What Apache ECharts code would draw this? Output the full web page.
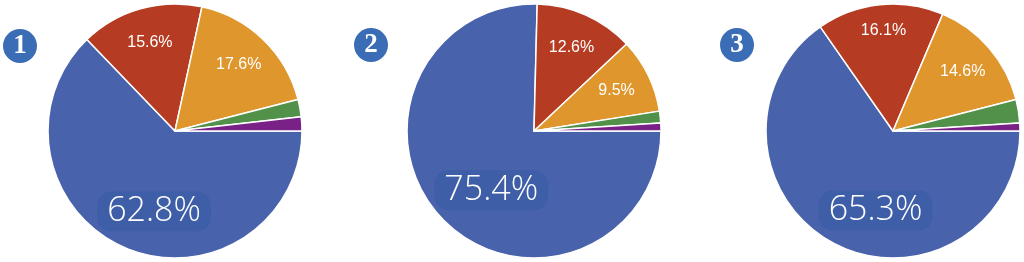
<!DOCTYPE html>
<html>
<head>
<meta charset="UTF-8">
<title>pies</title>
<script src="https://cdn.jsdelivr.net/npm/echarts@6/dist/echarts.min.js"></script>
<style>body{margin:0;background:#fff}</style>
</head>
<body>
<div id="main" style="width:1024px;height:262px"></div>
<script>
// slice names (clockwise from 3 o'clock)
var categories = ['A', 'B', 'C', 'D', 'E'];
var pie1 = [62.8, 15.6, 17.6, 2.2, 1.8];
var pie2 = [75.4, 12.6, 9.5, 1.5, 1.0];
var pie3 = [65.3, 16.1, 14.6, 3.0, 1.0];
var badges = ['1', '2', '3'];

var colors = ['#4862ab', '#b53b22', '#df962c', '#52914a', '#7a2187'];
var centers = [[175, 131], [534, 131], [893, 131]];
var badgePos = [[3, 28], [354, 27], [720, 27]];
// small nudges for the labels (blue, red, orange)
var nudges = [
  [[15, -4], [0, 0], [0, 0]],
  [[23, -5], [0, 0], [0, 0]],
  [[25, -2], [0, -9], [0, 0]]
];
var R = 127;

function pieSeries(values, idx) {
  var base = {
    type: 'pie',
    center: centers[idx],
    radius: [0, R],
    startAngle: 0,
    clockwise: true,
    animation: false,
    silent: true,
    label: { show: false },
    labelLine: { show: false },
    itemStyle: { borderColor: '#fff', borderWidth: 1.5 },
    data: values.map(function (v, i) {
      return { name: categories[i], value: v, itemStyle: { color: colors[i] } };
    })
  };
  // transparent ring only used to place the labels at ~0.7 r
  var lab = {
    type: 'pie',
    center: centers[idx],
    radius: [R * 0.4, R],
    startAngle: 0,
    clockwise: true,
    animation: false,
    silent: true,
    avoidLabelOverlap: false,
    labelLine: { show: false },
    itemStyle: { color: 'rgba(0,0,0,0)', borderWidth: 0 },
    data: values.map(function (v, i) {
      var d = { name: categories[i], value: v };
      if (i == 0) {
        d.label = {
          show: true, position: 'inside', rotate: 0,
          offset: nudges[idx][0],
          color: '#fff', fontSize: 34, fontWeight: 300,
          fontFamily: 'Open Sans, Noto Sans, sans-serif',
          backgroundColor: '#3e5ea7', borderRadius: 14,
          padding: [3, 10, 3, 10]
        };
      } else if (i < 3) {
        d.label = {
          show: true, position: 'inside', rotate: 0,
          offset: nudges[idx][i],
          color: '#fff', fontSize: 16,
          fontFamily: 'Liberation Sans, Arial, sans-serif'
        };
      } else {
        d.label = { show: false };
      }
      return d;
    }),
    label: {
      formatter: function (p) { return p.value.toFixed(1) + '%'; }
    }
  };
  return [base, lab];
}

var myChart = echarts.init(document.getElementById('main'));
var series = [].concat(pieSeries(pie1, 0), pieSeries(pie2, 1), pieSeries(pie3, 2));

var titles = badges.map(function (b, i) {
  return {
    text: '{b|' + b + '}',
    left: badgePos[i][0],
    top: badgePos[i][1],
    padding: 0,
    textStyle: {
      rich: {
        b: {
          width: 34, height: 34, lineHeight: 36, align: 'center',
          backgroundColor: '#3a6db5', borderRadius: 17,
          color: '#fff', fontSize: 27, fontFamily: 'Liberation Serif, serif'
        }
      }
    }
  };
});

myChart.setOption({
  backgroundColor: '#fff',
  title: titles,
  series: series
});
</script>
</body>
</html>
